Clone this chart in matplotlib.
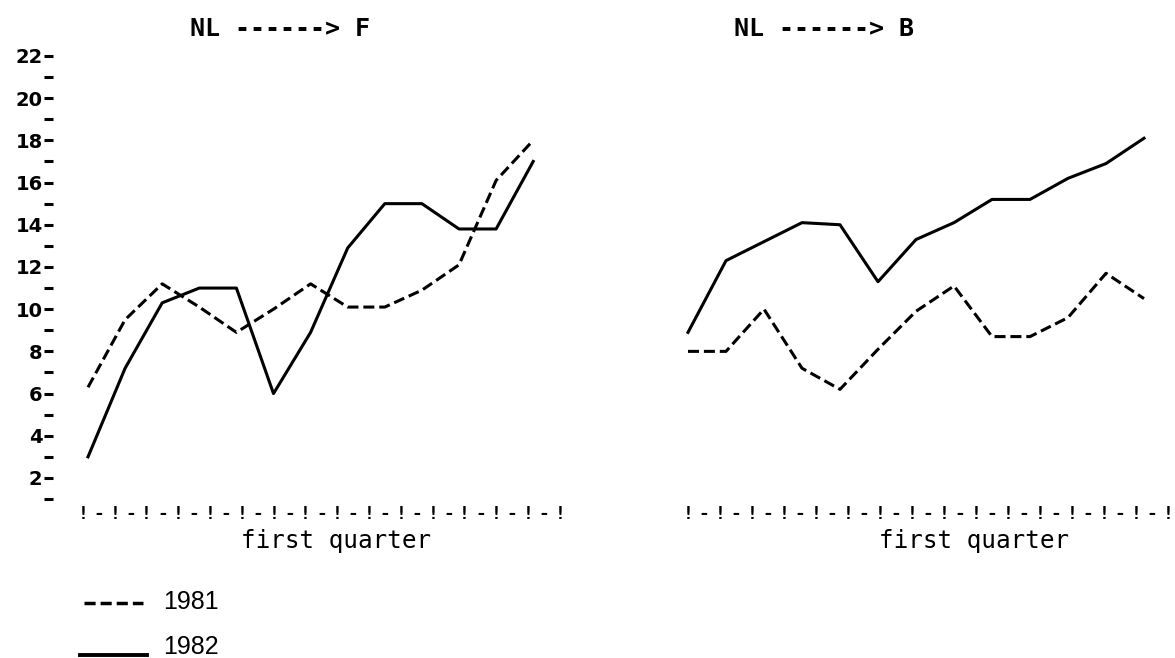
import matplotlib
matplotlib.use('Agg')
import matplotlib.pyplot as plt
from matplotlib.lines import Line2D
import numpy as np

# weeks of the first quarter
weeks = np.arange(1, 14)

# NL -> F
nl_f_1981 = [6.3, 9.5, 11.2, 10.1, 8.9, 10.0, 11.2, 10.1, 10.1, 10.9, 12.1, 16.1, 18.0]
nl_f_1982 = [3.0, 7.2, 10.3, 11.0, 11.0, 6.0, 8.9, 12.9, 15.0, 15.0, 13.8, 13.8, 17.0]

# NL -> B
nl_b_1981 = [8.0, 8.0, 10.0, 7.2, 6.2, 8.1, 9.9, 11.1, 8.7, 8.7, 9.6, 11.7, 10.5]
nl_b_1982 = [8.9, 12.3, 13.2, 14.1, 14.0, 11.3, 13.3, 14.1, 15.2, 15.2, 16.2, 16.9, 18.1]

y_major = list(range(2, 23, 2))
y_minor = list(range(1, 22, 2))
n_marks = 16

W, H = 1175, 658
MONO = 'DejaVu Sans Mono'
DASH = (0, (3.6, 1.6))

fig = plt.figure(figsize=(W / 100, H / 100), dpi=100)
fig.patch.set_facecolor('white')


def make_panel(x0, x1, first_week_px, week_px, first_mark_px, mark_px,
               title, title_x, label_x, show_y):
    # axes box in pixels: x0..x1, y from 49.6 (top) to 505 (bottom)
    y_top, y_bot = 49.6, 505.0
    ax = fig.add_axes([x0 / W, 1 - y_bot / H, (x1 - x0) / W, (y_bot - y_top) / H])
    ax.set_xlim(1 + (x0 - first_week_px) / week_px, 1 + (x1 - first_week_px) / week_px)
    ax.set_ylim(0.72, 22.3)
    for s in ax.spines.values():
        s.set_visible(False)
    ax.set_xticks([])
    if show_y:
        ax.set_yticks(y_major)
        ax.set_yticklabels([str(v) for v in y_major], fontsize=14, fontweight='bold')
        ax.set_yticks(y_minor, minor=True)
        ax.tick_params(axis='y', which='both', length=6.5, width=2.2, pad=1)
    else:
        ax.set_yticks([])

    # typewriter style x axis  !-!-!-...
    mk = ax.twiny()
    mk.set_xlim((x0 - first_mark_px) / mark_px, (x1 - first_mark_px) / mark_px)
    for s in mk.spines.values():
        s.set_visible(False)
    mk.xaxis.set_ticks_position('bottom')
    mk.xaxis.set_label_position('bottom')
    mk.set_xticks(range(n_marks))
    mk.set_xticklabels(['!'] * n_marks, family=MONO, fontsize=13, fontweight='bold')
    mk.set_xticks(np.arange(n_marks - 1) + 0.5, minor=True)
    mk.set_xticklabels(['-'] * (n_marks - 1), minor=True, family=MONO, fontsize=13,
                       fontweight='bold')
    mk.tick_params(axis='x', which='both', length=0, pad=0)
    mk.set_xlabel('first quarter', family=MONO, fontsize=17.5)
    mk.xaxis.set_label_coords(label_x, -0.052)

    ax.text(title_x, 1.045, title, transform=ax.transAxes, ha='center', va='center',
            family=MONO, fontsize=18, fontweight='bold')
    return ax


ax1 = make_panel(53, 570, 88, 37.1, 83, 31.8, 'NL ------> F', 0.439, 0.547, True)
ax1.plot(weeks, nl_f_1981, color='black', lw=2.2, linestyle=DASH)
ax1.plot(weeks, nl_f_1982, color='black', lw=2.2)

ax2 = make_panel(658, 1175, 688, 38.0, 688, 32.0, 'NL ------> B', 0.321, 0.611, False)
ax2.plot(weeks, nl_b_1981, color='black', lw=2.2, linestyle=DASH)
ax2.plot(weeks, nl_b_1982, color='black', lw=2.2)

# legend drawn by hand, as in the print
fig.add_artist(Line2D([84 / W, 143 / W], [1 - 603 / H, 1 - 603 / H], color='black',
                      lw=2.5, dashes=[3.2, 1.44]))
fig.text(163 / W, 1 - 602 / H, '1981', va='center', ha='left',
         family='Liberation Sans', fontsize=18)
fig.add_artist(Line2D([80 / W, 147 / W], [1 - 655 / H, 1 - 655 / H], color='black', lw=2.8))
fig.text(163 / W, 1 - 647 / H, '1982', va='center', ha='left',
         family='Liberation Sans', fontsize=18)

fig.savefig('out.png', dpi=100, facecolor='white')
